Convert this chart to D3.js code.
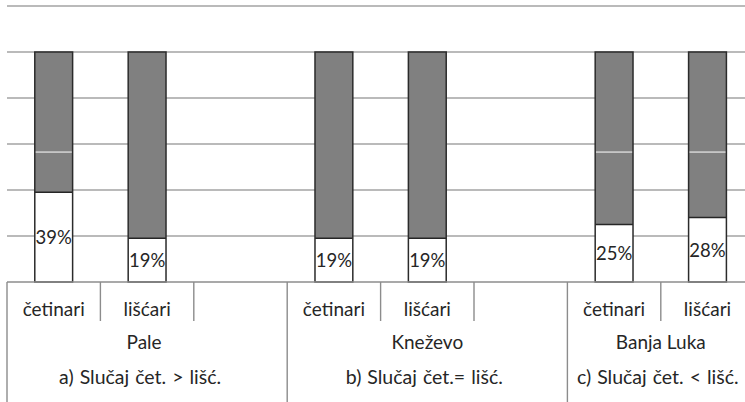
<!doctype html>
<html lang="sr">
<head>
    <meta charset="utf-8">
    <title>Slučaj čet. / lišć.</title>
    <script src="https://cdnjs.cloudflare.com/ajax/libs/d3/7.8.5/d3.min.js"></script>
    <style>
        html, body {
            margin: 0;
            padding: 0;
            background: #ffffff;
        }
        svg text {
            font-family: Lato, 'Open Sans', sans-serif;
            fill: #262626;
        }
    </style>
</head>
<body>
    <svg id="chart" width="745" height="402"></svg>
    <script>
        // categories on the axis (empty slot separates the groups)
        const categories = ["četinari", "lišćari", "", "četinari", "lišćari", "", "četinari", "lišćari"];
        const groups = ["Pale", "Kneževo", "Banja Luka"];
        const cases = ["a) Slučaj čet. > lišć.", "b) Slučaj čet.= lišć.", "c) Slučaj čet. < lišć."];
        const groupSizes = [3, 3, 2];

        // stacked shares (%), bottom to top
        const whiteShare = [39, 19, null, 19, 19, null, 25, 28];
        const grayLower  = [17.5, 81, null, 81, 81, null, 31.5, 28.5];
        const grayUpper  = [43.5, 0, null, 0, 0, null, 43.5, 43.5];

        const yTicks = [20, 40, 60, 80, 100, 120];

        const svg = d3.select("#chart");
        const plotLeft = 7, plotRight = 754.2, plotBase = 282, plotTop = 6;

        const x = d3.scaleBand()
            .domain(d3.range(categories.length))
            .range([plotLeft, plotRight])
            .padding(0);

        const y = d3.scaleLinear()
            .domain([0, 120])
            .range([plotBase, plotTop]);

        // gridlines
        svg.append("g")
            .selectAll("line")
            .data(yTicks)
            .enter()
            .append("line")
            .attr("x1", plotLeft)
            .attr("x2", plotRight)
            .attr("y1", d => y(d))
            .attr("y2", d => y(d))
            .attr("stroke", "#a3a3a3")
            .attr("stroke-width", 1.4);

        const rows = categories.map((c, i) => ({
            i: i,
            w: whiteShare[i],
            g1: grayLower[i],
            g2: grayUpper[i]
        })).filter(d => d.w !== null);

        const barW = x.bandwidth() * 0.405;
        const bx = d => x(d.i) + (x.bandwidth() - barW) / 2;

        const bars = svg.append("g")
            .selectAll("g")
            .data(rows)
            .enter()
            .append("g");

        // white part
        bars.append("rect")
            .attr("x", bx)
            .attr("width", barW)
            .attr("y", d => y(d.w))
            .attr("height", d => y(0) - y(d.w))
            .attr("fill", "#ffffff");

        // gray parts
        bars.append("rect")
            .attr("x", bx)
            .attr("width", barW)
            .attr("y", d => y(d.w + d.g1 + d.g2))
            .attr("height", d => y(d.w) - y(d.w + d.g1 + d.g2))
            .attr("fill", "#808080");

        // thin white divider between the two gray parts
        bars.filter(d => d.g2 > 0)
            .append("line")
            .attr("x1", bx)
            .attr("x2", d => bx(d) + barW)
            .attr("y1", d => y(d.w + d.g1))
            .attr("y2", d => y(d.w + d.g1))
            .attr("stroke", "#ffffff")
            .attr("stroke-width", 1);

        // dark divider between white and gray
        bars.append("line")
            .attr("x1", bx)
            .attr("x2", d => bx(d) + barW)
            .attr("y1", d => y(d.w))
            .attr("y2", d => y(d.w))
            .attr("stroke", "#262626")
            .attr("stroke-width", 1.5);

        // outline
        bars.append("rect")
            .attr("x", bx)
            .attr("width", barW)
            .attr("y", d => y(d.w + d.g1 + d.g2))
            .attr("height", d => y(0) - y(d.w + d.g1 + d.g2))
            .attr("fill", "none")
            .attr("stroke", "#2b2b2b")
            .attr("stroke-width", 1.5);

        // percent labels
        bars.append("text")
            .attr("x", d => x(d.i) + x.bandwidth() / 2)
            .attr("y", d => (y(0) + y(d.w)) / 2)
            .attr("dy", "0.38em")
            .attr("text-anchor", "middle")
            .style("font-size", "18.5px")
            .text(d => d.w + "%");

        // category axis
        const axis = svg.append("g")
            .attr("stroke", "#8c8c8c")
            .attr("stroke-width", 1.4);

        axis.append("line")
            .attr("x1", plotLeft).attr("x2", plotRight)
            .attr("y1", plotBase).attr("y2", plotBase);

        const groupStarts = [];
        let acc = 0;
        groupSizes.forEach(n => { groupStarts.push(acc); acc += n; });

        const innerTicks = d3.range(1, categories.length)
            .filter(i => !groupStarts.includes(i));

        axis.selectAll("line.inner")
            .data(innerTicks)
            .enter()
            .append("line")
            .attr("class", "inner")
            .attr("x1", d => x(d)).attr("x2", d => x(d))
            .attr("y1", plotBase).attr("y2", 321);

        axis.selectAll("line.outer")
            .data(groupStarts.concat([categories.length]))
            .enter()
            .append("line")
            .attr("class", "outer")
            .attr("x1", d => d < categories.length ? x(d) : plotRight)
            .attr("x2", d => d < categories.length ? x(d) : plotRight)
            .attr("y1", plotBase).attr("y2", 402);

        svg.append("g")
            .selectAll("text")
            .data(categories.map((c, i) => ({c: c, i: i})).filter(d => d.c))
            .enter()
            .append("text")
            .attr("x", d => x(d.i) + x.bandwidth() / 2)
            .attr("y", 309)
            .attr("dy", "0.36em")
            .attr("text-anchor", "middle")
            .style("font-size", "19px")
            .text(d => d.c);

        const groupCenter = k => {
            const a = x(groupStarts[k]);
            const b = x(groupStarts[k] + groupSizes[k] - 1) + x.bandwidth();
            return (a + b) / 2;
        };

        svg.append("g")
            .selectAll("text")
            .data(groups)
            .enter()
            .append("text")
            .attr("x", (d, k) => groupCenter(k) - (k === 0 ? 3 : 0))
            .attr("y", 342)
            .attr("dy", "0.36em")
            .attr("text-anchor", "middle")
            .style("font-size", "19px")
            .text(d => d);

        svg.append("g")
            .selectAll("text")
            .data(cases)
            .enter()
            .append("text")
            .attr("x", (d, k) => groupCenter(k) - (k === 0 ? 7 : 3))
            .attr("y", 377)
            .attr("dy", "0.36em")
            .attr("text-anchor", "middle")
            .style("font-size", "19.5px")
            .style("word-spacing", "1px")
            .text(d => d);
    </script>
</body>
</html>
